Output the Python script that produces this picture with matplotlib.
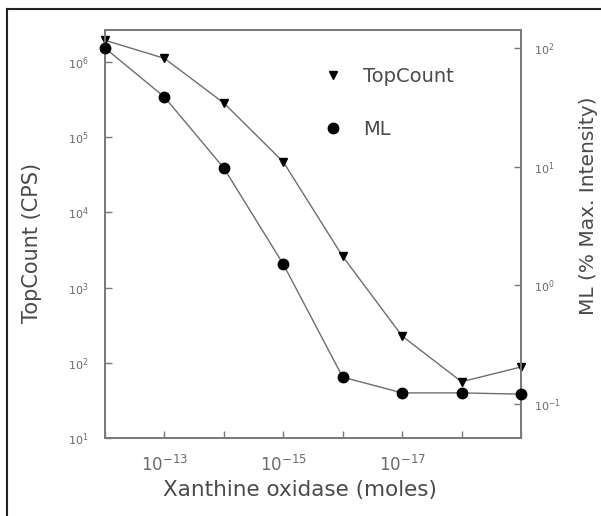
import matplotlib
matplotlib.use("Agg")
import matplotlib.pyplot as plt
from matplotlib.lines import Line2D
from matplotlib.ticker import NullLocator

# Dados
xanthine_moles = [1e-12, 1e-13, 1e-14, 1e-15, 1e-16, 1e-17, 1e-18, 1e-19]
topcount_cps = [1.95e6, 1.12e6, 2.85e5, 4.7e4, 2.6e3, 227, 56, 88]
ml_pct = [100, 38.6, 9.7, 1.5, 0.167, 0.123, 0.123, 0.12]

x_ticks = [1e-12, 1e-13, 1e-14, 1e-15, 1e-16, 1e-17, 1e-18, 1e-19]
x_ticklabels = ['', r'$10^{-13}$', '', r'$10^{-15}$', '', r'$10^{-17}$', '', '']
left_ticks = [1e1, 1e2, 1e3, 1e4, 1e5, 1e6]
left_ticklabels = [r'$10^{1}$', r'$10^{2}$', r'$10^{3}$', r'$10^{4}$', r'$10^{5}$', r'$10^{6}$']
right_ticks = [1e-1, 1e0, 1e1, 1e2]
right_ticklabels = [r'$10^{-1}$', r'$10^{0}$', r'$10^{1}$', r'$10^{2}$']

spine_col = '#7a7a7a'
line_col = '#6e6e6e'
tick_txt = '#6a6a6a'
label_txt = '#4a4a4a'

fig = plt.figure(figsize=(6.01, 5.16), dpi=100)
ax = fig.add_axes([105 / 601, 78 / 516, 416 / 601, 408 / 516])
ax2 = ax.twinx()

#Curvas
ax.plot(xanthine_moles, topcount_cps, color=line_col, lw=1.0, marker='v',
        ms=6, mfc='black', mec='black', clip_on=False, zorder=3)
ax2.plot(xanthine_moles, ml_pct, color=line_col, lw=1.0, marker='o',
         ms=7.5, mfc='black', mec='black', clip_on=False, zorder=3)

#Eixos
ax.set_xscale('log')
ax.set_yscale('log')
ax2.set_yscale('log')
ax.set_xlim(1e-12, 1e-19)
ax.set_ylim(10, 2.67e6)
ax2.set_ylim(0.0512, 142)

ax.set_xticks(x_ticks)
ax.set_xticklabels(x_ticklabels)
ax.set_yticks(left_ticks)
ax.set_yticklabels(left_ticklabels)
ax2.set_yticks(right_ticks)
ax2.set_yticklabels(right_ticklabels)
for a in (ax, ax2):
    a.xaxis.set_minor_locator(NullLocator())
    a.yaxis.set_minor_locator(NullLocator())
    for s in a.spines.values():
        s.set_color(spine_col)
        s.set_linewidth(1.3)

ax.tick_params(axis='x', direction='in', length=5, width=1, color=spine_col,
               labelsize=12, labelcolor=tick_txt, pad=12)
ax.tick_params(axis='y', direction='in', length=5, width=1, color=spine_col,
               labelsize=8, labelcolor=tick_txt, pad=12)
ax2.tick_params(axis='y', direction='in', length=5, width=1, color=spine_col,
                labelsize=8, labelcolor=tick_txt, pad=9)

#Rotulos
fig.text(300 / 601, 1 - 490 / 516, 'Xanthine oxidase (moles)', ha='center',
         va='center', fontsize=15.5, color=label_txt)
fig.text(32 / 601, 1 - 243 / 516, 'TopCount (CPS)', ha='center', va='center',
         rotation=90, fontsize=15, color=label_txt)
fig.text(589 / 601, 1 - 206 / 516, 'ML (% Max. Intensity)', ha='center',
         va='center', rotation=90, fontsize=14.5, color=label_txt)

#Legenda
handles = [Line2D([], [], ls='none', marker='v', ms=6, mfc='black', mec='black'),
           Line2D([], [], ls='none', marker='o', ms=7.5, mfc='black', mec='black')]
leg = ax2.legend(handles, ['TopCount', 'ML'], loc='upper left',
                 bbox_to_anchor=(218 / 416, 1 - 37 / 408), frameon=False,
                 fontsize=14, handlelength=1.0, handletextpad=1.05,
                 labelspacing=1.75, borderaxespad=0, borderpad=0)
for t in leg.get_texts():
    t.set_color(label_txt)

#Moldura externa
fig.add_artist(Line2D([7 / 601, 1], [1 - 9 / 516, 1 - 9 / 516], color='#222222', lw=1.5))
fig.add_artist(Line2D([7 / 601, 7 / 601], [0, 1 - 9 / 516], color='#222222', lw=1.5))

plt.savefig('out.png', dpi=100)
